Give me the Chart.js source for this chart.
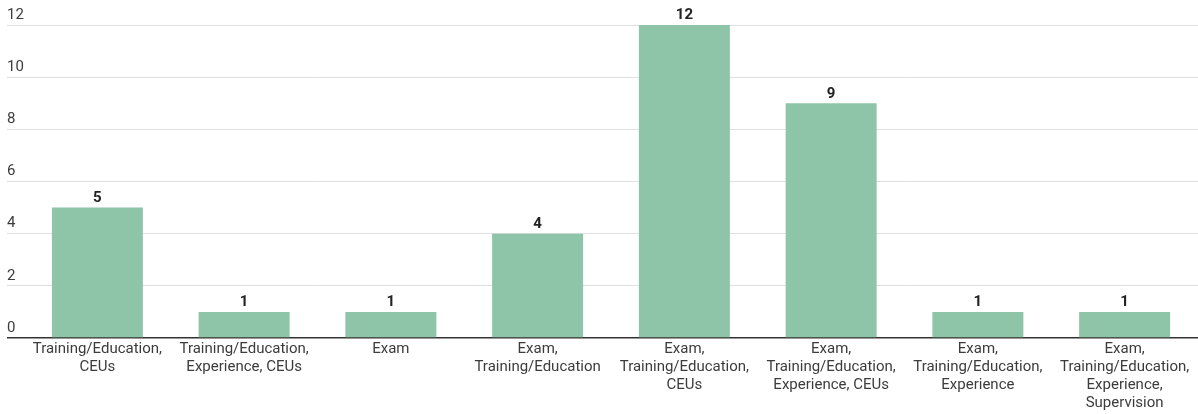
<!DOCTYPE html>
<html>
<head>
<meta charset="utf-8">
<script src="https://cdn.jsdelivr.net/npm/chart.js@4"></script>
<style>
  body { margin: 0; background: #fff; }
  #wrap { width: 1198px; height: 414px; position: relative; }
</style>
</head>
<body>
<div id="wrap"><canvas id="bars"></canvas></div>
<script>
// categories (multi-line labels as drawn under each bar)
var categories = [
    ['Training/Education,', 'CEUs'],
    ['Training/Education,', 'Experience, CEUs'],
    'Exam',
    ['Exam,', 'Training/Education'],
    ['Exam,', 'Training/Education,', 'CEUs'],
    ['Exam,', 'Training/Education,', 'Experience, CEUs'],
    ['Exam,', 'Training/Education,', 'Experience'],
    ['Exam,', 'Training/Education,', 'Experience,', 'Supervision']
];
var counts = [5, 1, 1, 4, 12, 9, 1, 1];
var yTicks = [0, 2, 4, 6, 8, 10, 12];

// value labels above each bar
var barLabels = {
    id: 'barLabels',
    afterDatasetsDraw: function (chart) {
        var ctx = chart.ctx;
        var meta = chart.getDatasetMeta(0);
        ctx.save();
        ctx.font = 'bold 15px Roboto';
        ctx.fillStyle = '#222';
        ctx.textAlign = 'center';
        ctx.textBaseline = 'bottom';
        meta.data.forEach(function (bar, i) {
            ctx.fillText(counts[i], bar.x, bar.y - 2);
        });
        ctx.restore();
    }
};

function lineColor(c) {
    return c.tick && c.tick.value === 0 ? '#333333' : '#e0e0e0';
}

new Chart(document.getElementById('bars'), {
    type: 'bar',
    data: {
        labels: categories,
        datasets: [{
            data: counts,
            backgroundColor: '#8ec4a8',
            borderWidth: 0,
            categoryPercentage: 1,
            barPercentage: 0.62
        }]
    },
    options: {
        responsive: true,
        maintainAspectRatio: false,
        animation: false,
        layout: { padding: { left: 7, top: 25, right: 0, bottom: 0 } },
        plugins: { legend: { display: false }, tooltip: { enabled: false } },
        scales: {
            x: {
                grid: { display: false, drawTicks: false },
                border: { display: false },
                ticks: {
                    color: '#3c3c3c',
                    font: { family: 'Roboto', size: 15, lineHeight: 1.2 },
                    padding: 2,
                    maxRotation: 0,
                    autoSkip: false
                }
            },
            y: {
                min: 0,
                max: 12,
                afterBuildTicks: function (scale) {
                    scale.ticks = yTicks.map(function (v) { return { value: v }; });
                },
                afterFit: function (scale) { scale.width = 17; },
                grid: {
                    color: lineColor,
                    tickColor: lineColor,
                    tickLength: 17,
                    lineWidth: function (c) { return c.tick && c.tick.value === 0 ? 1.5 : 1; }
                },
                border: { display: false },
                ticks: {
                    color: '#3c3c3c',
                    font: { family: 'Roboto', size: 15 },
                    crossAlign: 'far',
                    labelOffset: -10,
                    padding: 0
                }
            }
        }
    },
    plugins: [barLabels]
});
</script>
</body>
</html>
